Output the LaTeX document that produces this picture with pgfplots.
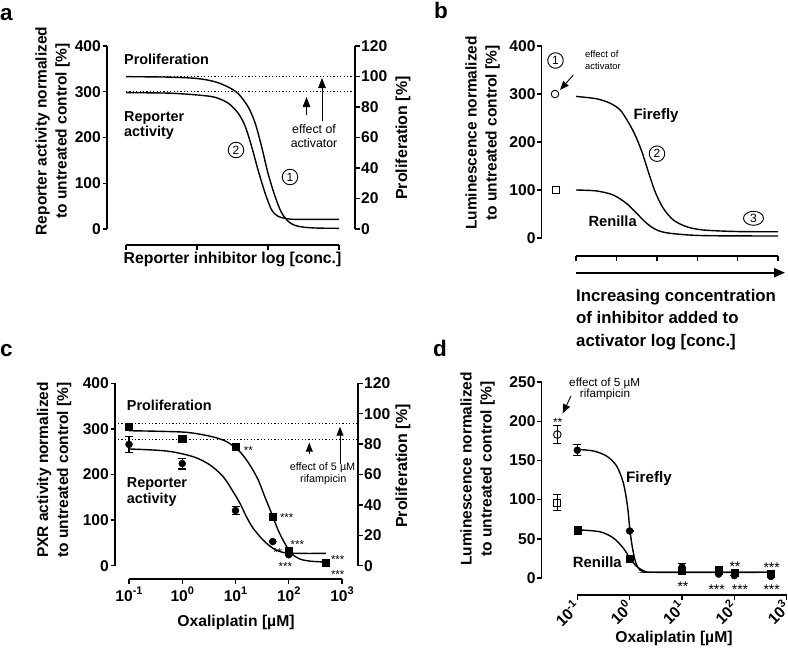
\documentclass[border=0pt]{standalone}
\usepackage{fontspec}
\setmainfont{Liberation Sans}
\usepackage{pgfplots}
\pgfplotsset{compat=1.18}
\usetikzlibrary{arrows.meta,shapes.geometric}
\newcommand{\fsz}[1]{\fontsize{#1bp}{#1bp}\selectfont}
\newcommand{\tp}[1]{10\raisebox{6.5bp}{\fsz{11}\bfseries #1}}
\pgfplotsset{
  gp/.style={scale only axis, clip=false, anchor=south west,
    axis line style={-, line width=1.4bp, black},
    tick style={line width=1.4bp, black},
    tick align=outside, major tick length=4.5bp,
    tick label style={font=\bfseries\fsz{15.6}},
    yticklabel style={inner xsep=1.5bp},
    /pgf/number format/assume math mode=true,
    xminorticks=false, yminorticks=false},
  dots/.style={line width=1.2bp, dash pattern=on 1.2bp off 2.2bp, black},
  fit/.style={smooth, no marks, line width=1.4bp, black},
  ebar/.style={error bars/.cd, y dir=both, y explicit,
    error bar style={line width=1.1bp, black},
    error mark options={rotate=90, line width=1.1bp, mark size=4bp, black}},
}
\begin{document}
\begin{tikzpicture}
\useasboundingbox (0,0) rectangle (788bp,-661bp);

% ---------------- Panel a ----------------
\begin{axis}[gp, at={(126bp,-229bp)}, width=213bp, height=183bp,
  xmin=0, xmax=3, ymin=0, ymax=400,
  axis y line*=left, axis x line*=bottom, ytick pos=left, xtick pos=bottom,
  axis y line shift=19bp, axis x line shift=16bp,
  xtick={0,1,2,3}, xticklabel=\empty, ytick={0,100,200,300,400}]
\addplot[dots] coordinates {(0,333.3) (3.18,333.3)};
\addplot[dots] coordinates {(0,300) (3.18,300)};
\addplot[fit] coordinates {(0,333) (0.6,332) (1.0,329) (1.25,322) (1.43,311) (1.58,296) (1.72,267) (1.82,231) (1.91,180) (2.0,122) (2.1,71) (2.19,36) (2.29,16) (2.38,8) (2.5,4) (2.7,2) (3.0,1.5)};
\addplot[fit] coordinates {(0,298) (0.6,297) (1.0,293) (1.25,288) (1.44,275) (1.58,253) (1.68,224) (1.77,180) (1.86,129) (1.96,78) (2.05,42) (2.14,28) (2.29,22) (2.5,21) (3.0,21)};
\end{axis}
\begin{axis}[gp, at={(126bp,-229bp)}, width=213bp, height=183bp,
  xmin=0, xmax=3, ymin=0, ymax=120,
  axis x line=none, axis y line*=right, ytick pos=right, axis y line shift=16bp,
  ytick={0,20,40,60,80,100,120}, yticklabel style={inner xsep=1.5bp}]
\addplot[draw=none] coordinates {(1,50)};
\end{axis}

% ---------------- Panel b ----------------
\begin{axis}[gp, at={(576bp,-238bp)}, width=202bp, height=192bp,
  xmin=0, xmax=5, ymin=0, ymax=400,
  axis y line*=left, axis x line*=bottom, ytick pos=left, xtick pos=bottom,
  axis y line shift=34.3bp, axis x line shift=18bp,
  xtick={0,1,2,3,4,5}, xticklabel=\empty, ytick={0,100,200,300,400}]
\addplot[fit] coordinates {(0,295) (0.51,290) (0.84,281) (1.09,267) (1.29,242) (1.46,215) (1.63,180) (1.79,138) (1.96,96) (2.16,62) (2.41,37.5) (2.74,23.5) (3.15,16.7) (3.98,13.5) (5,13)};
\addplot[fit] coordinates {(0,100) (0.51,98) (0.92,89.6) (1.25,72) (1.5,51.5) (1.75,30.6) (2.0,16.7) (2.33,9.8) (3.15,5) (5,4.2)};
\addplot[only marks, mark=o, mark size=3.8bp, line width=0.9bp, mark options={fill=white}] coordinates {(-0.52,300)};
\addplot[only marks, mark=square, mark size=3.6bp, line width=0.9bp, mark options={fill=white}] coordinates {(-0.50,100)};
\end{axis}

% ---------------- Panel c ----------------
\begin{axis}[gp, at={(129bp,-565.7bp)}, width=213bp, height=182.4bp,
  xmode=log, xmin=0.1, xmax=1000, ymin=0, ymax=400,
  axis y line*=left, axis x line*=bottom, ytick pos=left, xtick pos=bottom,
  axis y line shift=14bp, axis x line shift=13.3bp,
  xtick={0.1,1,10,100,1000}, xticklabels={\tp{-1},\tp{0},\tp{1},\tp{2},\tp{3}},
  ytick={0,100,200,300,400}]
\addplot[dots] coordinates {(0.0622,312) (1897,312)};
\addplot[dots] coordinates {(0.0622,276) (1897,276)};
\addplot[fit] coordinates {(0.1,296) (1.045,293) (3.31,284) (6.81,272) (12.1,250) (18.6,221) (26.7,188) (35.6,151) (47.5,115) (63.1,78) (84.5,49) (112,27) (162,14.7) (251,10) (500,8)};
\addplot[fit] coordinates {(0.1,256) (0.509,251.5) (1.61,239) (3.31,221) (5.89,195) (9.06,162) (12.1,137) (16.1,107) (21.5,82) (33.1,56) (50.9,38) (78.5,29) (162,27) (500,27)};
\addplot[only marks, mark=*, mark size=3.5bp, ebar] coordinates {(0.1,266) +- (0,17) (1,224) +- (0,12) (10,121) +- (0,9) (50,53) +- (0,0) (100,24) +- (0,0) (500,6) +- (0,0)};
\addplot[only marks, mark=square*, mark size=3.6bp] coordinates {(0.1,305) (1,279) (10,261) (50,107) (100,32) (500,7)};
\end{axis}
\begin{axis}[gp, at={(129bp,-565.7bp)}, width=213bp, height=182.4bp,
  xmin=0, xmax=3, ymin=0, ymax=120,
  axis x line=none, axis y line*=right, ytick pos=right, axis y line shift=16bp,
  ytick={0,20,40,60,80,100,120}]
\addplot[draw=none] coordinates {(1,50)};
\end{axis}

% ---------------- Panel d ----------------
\begin{axis}[gp, at={(577.3bp,-578bp)}, width=209.4bp, height=196bp,
  xmode=log, xmin=0.1, xmax=1000, ymin=0, ymax=250,
  axis y line*=left, axis x line*=bottom, ytick pos=left, xtick pos=bottom,
  axis y line shift=35.6bp, axis x line shift=17bp,
  xtick={0.1,1,10,100,1000}, xticklabels={\tp{-1},\tp{0},\tp{1},\tp{2},\tp{3}},
  xticklabel style={rotate=45, anchor=east, yshift=-2.5bp},
  ytick={0,50,100,150,200,250}]
\addplot[fit] coordinates {(0.1,164) (0.204,162) (0.363,155.5) (0.562,143) (0.759,121) (0.912,91) (1.016,60) (1.148,36) (1.318,19) (1.585,10) (2.24,7.5) (3.98,7.3) (500,7.3)};
\addplot[fit] coordinates {(0.1,61.5) (0.269,59) (0.49,51) (0.759,38) (1.016,25) (1.35,15) (1.95,8.5) (2.82,7.3) (500,7.3)};
\addplot[only marks, mark=square*, mark size=3.6bp] coordinates {(0.1,61) (1,25) (10,9) (50,10) (100,7) (500,5)};
\addplot[only marks, mark=*, mark size=3.5bp, ebar] coordinates {(0.1,163) +- (0,7) (1,60) +- (0,0) (10,14) +- (0,4) (50,5) +- (0,0) (100,3) +- (0,0) (500,2) +- (0,0)};
\addplot[only marks, mark=o, mark size=3.8bp, line width=0.9bp, mark options={fill=white}, ebar] coordinates {(0.0415,183) +- (0,11)};
\addplot[only marks, mark=square, mark size=3.6bp, line width=0.9bp, mark options={fill=white}, ebar] coordinates {(0.0415,96) +- (0,10)};
\end{axis}

% ---------------- Annotations ----------------
\begin{scope}[x=1bp,y=-1bp]
% panel letters
\node[anchor=base west, inner sep=0, font=\bfseries\fsz{22.5}] at (0,20) {a};
\node[anchor=base west, inner sep=0, font=\bfseries\fsz{22.5}] at (434,18.3) {b};
\node[anchor=base west, inner sep=0, font=\bfseries\fsz{22.5}] at (0,356.7) {c};
\node[anchor=base west, inner sep=0, font=\bfseries\fsz{22.5}] at (433,356.7) {d};

% y labels
\node[rotate=90, align=center, font=\bfseries\fontsize{15.5bp}{20bp}\selectfont] at (52.5,131) {Reporter activity normalized\\to untreated control [\%]};
\node[rotate=90, align=center, font=\bfseries\fontsize{15.5bp}{20bp}\selectfont] at (482.5,133) {Luminescence normalized\\to untreated control [\%]};
\node[rotate=90, align=center, font=\bfseries\fontsize{15.5bp}{20bp}\selectfont] at (54,470) {PXR activity normalized\\to untreated control [\%]};
\node[rotate=90, align=center, font=\bfseries\fontsize{15.5bp}{20bp}\selectfont] at (477.5,469) {Luminescence normalized\\to untreated control [\%]};
\node[rotate=90, font=\bfseries\fsz{16}] at (403,138) {Proliferation [\%]};
\node[rotate=90, font=\bfseries\fsz{16}] at (403,466) {Proliferation [\%]};

% x labels
\node[anchor=base, inner sep=0, font=\bfseries\fsz{15.8}] at (232.5,263) {Reporter inhibitor log [conc.]};
\node[anchor=base west, inner sep=0, font=\bfseries\fsz{16.8}] at (576,301) {Increasing concentration};
\node[anchor=base west, inner sep=0, font=\bfseries\fsz{16.8}] at (576,323.5) {of inhibitor added to};
\node[anchor=base west, inner sep=0, font=\bfseries\fsz{16.8}] at (576,346) {activator log [conc.]};
\node[anchor=base, inner sep=0, font=\bfseries\fsz{15.7}] at (236,626.2) {Oxaliplatin [µM]};
\node[anchor=base, inner sep=0, font=\bfseries\fsz{15.7}] at (674,642.9) {Oxaliplatin [µM]};
\draw[line width=2bp, -{Triangle[length=11bp,width=9bp]}] (576,272.7) -- (785,272.7);

% panel a annotations
\node[anchor=base west, inner sep=0, font=\bfseries\fsz{14.4}] at (124,64) {Proliferation};
\node[anchor=base west, inner sep=0, font=\bfseries\fsz{14.4}] at (124,121) {Reporter};
\node[anchor=base west, inner sep=0, font=\bfseries\fsz{14.4}] at (124,136.5) {activity};
\draw[line width=1bp, -{Triangle[length=10bp,width=7.5bp]}] (306.5,115) -- (306.5,97);
\draw[line width=1bp, -{Triangle[length=10bp,width=7.5bp]}] (322,121) -- (322,78);
\node[anchor=base, inner sep=0, font=\fsz{12.3}] at (314,133) {effect of};
\node[anchor=base, inner sep=0, font=\fsz{12.3}] at (314,147.5) {activator};
\node[circle, draw, line width=0.9bp, minimum size=15.5bp, inner sep=0, font=\fsz{12}] at (236,150) {2};
\node[circle, draw, line width=0.9bp, minimum size=15.5bp, inner sep=0, font=\fsz{12}] at (290,177) {1};

% panel b annotations
\node[circle, draw, line width=0.9bp, minimum size=15.5bp, inner sep=0, font=\fsz{12}] at (555.5,60.5) {1};
\node[anchor=base west, inner sep=0, font=\fsz{9.4}] at (585,57) {effect of};
\node[anchor=base west, inner sep=0, font=\fsz{9.4}] at (585,69.5) {activator};
\draw[line width=0.9bp, -{Triangle[length=9bp,width=7bp]}] (573.3,75) -- (560,90);
\node[anchor=base west, inner sep=0, font=\bfseries\fsz{15}] at (633.3,119) {Firefly};
\node[anchor=base west, inner sep=0, font=\bfseries\fsz{14.7}] at (588.3,226.7) {Renilla};
\node[circle, draw, line width=0.9bp, minimum size=15.5bp, inner sep=0, font=\fsz{12}] at (657,153.7) {2};
\node[ellipse, draw, line width=0.9bp, minimum width=20bp, minimum height=14bp, inner sep=0, font=\fsz{12}] at (753.5,218.3) {3};

% panel c annotations
\node[anchor=base west, inner sep=0, font=\bfseries\fsz{14.4}] at (126.7,410.7) {Proliferation};
\node[anchor=base west, inner sep=0, font=\bfseries\fsz{14.4}] at (126.7,487.5) {Reporter};
\node[anchor=base west, inner sep=0, font=\bfseries\fsz{14.4}] at (126.7,503) {activity};
\draw[line width=1bp, -{Triangle[length=9bp,width=7bp]}] (309.3,454) -- (309.3,442.7);
\draw[line width=1bp, -{Triangle[length=9bp,width=7bp]}] (340,464.3) -- (340,426.7);
\node[anchor=base, inner sep=0, font=\fsz{10.8}] at (322.5,470) {effect of 5 µM};
\node[anchor=base, inner sep=0, font=\fsz{10.8}] at (323.3,482) {rifampicin};
\node[anchor=base, inner sep=0, font=\fsz{11.4}] at (248.3,454.6) {**};
\node[anchor=base, inner sep=0, font=\fsz{11.4}] at (286.7,521.6) {***};
\node[anchor=base, inner sep=0, font=\fsz{11.4}] at (297.3,548.9) {***};
\node[anchor=base, inner sep=0, font=\fsz{11.4}] at (277.7,556.6) {**};
\node[anchor=base, inner sep=0, font=\fsz{11.4}] at (285.3,570.9) {***};
\node[anchor=base, inner sep=0, font=\fsz{11.4}] at (337.7,563.9) {***};
\node[anchor=base, inner sep=0, font=\fsz{11.4}] at (337.7,578.3) {***};

% panel d annotations
\node[anchor=base, inner sep=0, font=\fsz{11.7}] at (604.7,386) {effect of 5 µM};
\node[anchor=base, inner sep=0, font=\fsz{11.7}] at (605,397.5) {rifampicin};
\draw[line width=0.9bp, -{Triangle[length=9bp,width=7.5bp]}] (571,396) -- (562.7,413.3);
\node[anchor=base west, inner sep=0, font=\bfseries\fsz{15.2}] at (626,482.5) {Firefly};
\node[anchor=base west, inner sep=0, font=\bfseries\fsz{14.9}] at (572.7,567.3) {Renilla};
\node[anchor=base, inner sep=0, font=\fsz{12}] at (557.7,426) {**};
\node[anchor=base, inner sep=0, font=\fsz{14}] at (683,591.5) {**};
\node[anchor=base, inner sep=0, font=\fsz{14}] at (716.7,594.5) {***};
\node[anchor=base, inner sep=0, font=\fsz{14}] at (740,594.5) {***};
\node[anchor=base, inner sep=0, font=\fsz{14}] at (771.7,594.5) {***};
\node[anchor=base, inner sep=0, font=\fsz{14}] at (735,571.5) {**};
\node[anchor=base, inner sep=0, font=\fsz{14}] at (771.7,572.5) {***};
\end{scope}
\end{tikzpicture}
\end{document}
